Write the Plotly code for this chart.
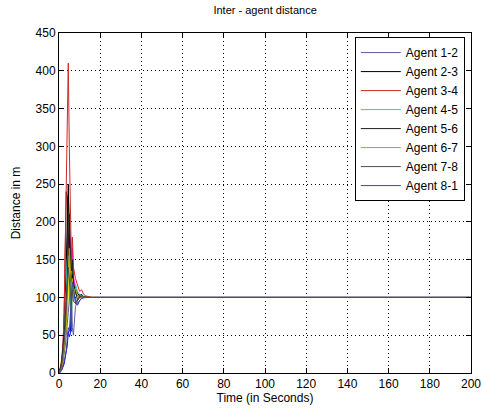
import plotly.graph_objects as go

t = [0, 0.5, 1, 1.5, 2, 2.5, 3, 3.5, 4, 4.5, 5, 5.5, 6, 6.5, 7, 8, 9, 10, 11, 12, 13, 14, 15, 16, 18, 20, 200]

agent_12 = [0, 3, 6, 10, 16, 25, 36, 50, 62, 80, 95, 120, 105, 60, 50, 88, 96, 104, 103, 101, 100.5, 100, 100, 100, 100, 100, 100]
agent_23 = [0, 3, 8, 18, 30, 55, 90, 140, 200, 250, 180, 140, 120, 130, 115, 112, 105, 103, 104, 101, 100.5, 100, 100, 100, 100, 100, 100]
agent_34 = [0, 5, 12, 25, 40, 80, 155, 240, 313, 410, 300, 200, 150, 180, 140, 125, 115, 108, 110, 104, 102, 101, 100.5, 100, 100, 100, 100]
agent_45 = [0, 2, 6, 14, 28, 48, 75, 110, 150, 155, 130, 95, 120, 110, 100, 118, 108, 104, 102, 101, 100, 100, 100, 100, 100, 100, 100]
agent_56 = [0, 4, 10, 20, 35, 55, 70, 95, 120, 170, 210, 160, 135, 150, 120, 108, 96, 100, 102, 101, 100, 100, 100, 100, 100, 100, 100]
agent_67 = [0, 2, 5, 10, 20, 35, 45, 60, 95, 130, 165, 140, 115, 125, 105, 112, 103, 98, 101, 100.5, 100, 100, 100, 100, 100, 100, 100]
agent_78 = [0, 3, 7, 15, 25, 40, 60, 85, 105, 140, 125, 100, 90, 110, 95, 92, 98, 101, 100.5, 100, 100, 100, 100, 100, 100, 100, 100]
agent_81 = [0, 1, 3, 6, 10, 15, 22, 30, 45, 60, 55, 75, 95, 120, 110, 97, 92, 96, 99, 100, 100, 100, 100, 100, 100, 100, 100]

extra_blue = [0, 1, 2, 5, 8, 12, 20, 28, 36, 55, 48, 52, 85, 125, 115, 92, 90, 96, 99, 100, 100, 100, 100, 100, 100, 100, 100]
extra_green = [0, 2, 6, 12, 20, 32, 50, 80, 150, 235, 200, 130, 55, 140, 118, 106, 102, 101, 100, 100, 100, 100, 100, 100, 100, 100, 100]
extra_magenta = [0, 3, 8, 18, 32, 50, 62, 90, 110, 150, 190, 175, 140, 165, 128, 112, 106, 103, 101, 100, 100, 100, 100, 100, 100, 100, 100]
extra_maroon = [0, 4, 9, 20, 40, 80, 150, 240, 230, 160, 150, 135, 120, 110, 108, 104, 102, 101, 100, 100, 100, 100, 100, 100, 100, 100, 100]
extra_yellow = [0, 1, 3, 8, 15, 25, 38, 60, 82, 100, 145, 155, 130, 115, 108, 104, 101, 100, 100, 100, 100, 100, 100, 100, 100, 100, 100]

legend_names = ["Agent 1-2", "Agent 2-3", "Agent 3-4", "Agent 4-5", "Agent 5-6", "Agent 6-7", "Agent 7-8", "Agent 8-1"]
legend_series = [agent_12, agent_23, agent_34, agent_45, agent_56, agent_67, agent_78, agent_81]
legend_colors = ["#5a5aa8", "#000000", "#d02828", "#3cc4c4", "#1e1e1e", "#b4a400", "#4e4e4e", "#44449c"]

extra_series = [extra_blue, extra_green, extra_magenta, extra_maroon, extra_yellow]
extra_colors = ["#0000ff", "#008000", "#ff00ff", "#800000", "#e8e800"]

x_ticks = [0, 20, 40, 60, 80, 100, 120, 140, 160, 180, 200]
y_ticks = [0, 50, 100, 150, 200, 250, 300, 350, 400, 450]

fig = go.Figure()
for ys, c in zip(extra_series, extra_colors):
    fig.add_trace(go.Scatter(x=t, y=ys, mode="lines", line=dict(color=c, width=1), showlegend=False))
for name, ys, c in zip(legend_names, legend_series, legend_colors):
    fig.add_trace(go.Scatter(x=t, y=ys, mode="lines", name=name, line=dict(color=c, width=1)))

axis_common = dict(
    showline=True, linecolor="black", linewidth=1, mirror="ticks",
    ticks="inside", ticklen=5, tickcolor="black",
    showgrid=True, gridcolor="#000000", griddash="1px,3px", gridwidth=1,
    zeroline=False, automargin=False,
    tickfont=dict(family="Liberation Sans, Arial", size=12, color="black"),
)

fig.update_layout(
    width=482, height=409,
    margin=dict(l=59, r=11, t=33, b=36),
    paper_bgcolor="white", plot_bgcolor="white",
    font=dict(family="Liberation Sans, Arial", size=12, color="black"),
    title=dict(text="Inter - agent distance", x=0.55, xanchor="center", y=0.985, yanchor="top",
               font=dict(size=11, color="black")),
    xaxis=dict(range=[0, 200], tickvals=x_ticks, title=dict(text="Time (in Seconds)", standoff=2,
               font=dict(size=12)), **axis_common),
    yaxis=dict(range=[0, 450], tickvals=y_ticks, title=dict(text="Distance in m", standoff=12,
               font=dict(size=12)), **axis_common),
    legend=dict(x=0.985, y=0.988, xanchor="right", yanchor="top", bgcolor="white",
                bordercolor="black", borderwidth=1, font=dict(size=12), itemwidth=40,
                tracegroupgap=0),
)

fig.write_html("out.html")
